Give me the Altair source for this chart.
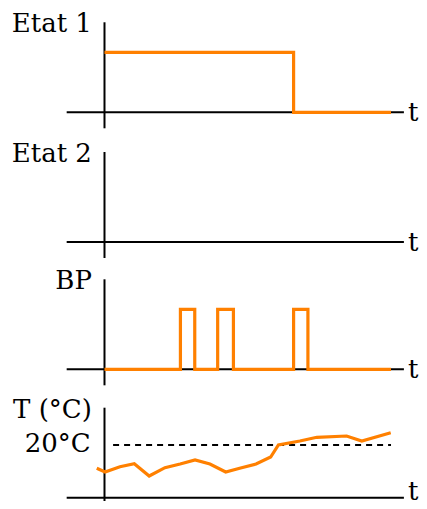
import altair as alt
import pandas as pd

# ---- data (time in arbitrary units, t=0 at the vertical axis, curves end at t=10)
etat1_t = [0, 6.6, 10]
etat1_v = [1, 0, 0]

bp_t = [0, 2.65, 3.15, 3.95, 4.5, 6.6, 7.1, 10]
bp_v = [0, 1, 0, 1, 0, 1, 0, 0]

temp_t = [-0.27, 0.02, 0.54, 1.04, 1.56, 2.11, 2.64, 3.16, 3.68, 4.23,
          4.75, 5.29, 5.80, 6.07, 6.82, 7.41, 8.45, 8.98, 9.99]
temp_v = [17.67, 17.3, 17.83, 18.13, 16.9, 17.73, 18.1, 18.5, 18.1, 17.3,
          17.7, 18.1, 18.8, 20.0, 20.4, 20.77, 20.9, 20.4, 21.23]

setpoint = 20
setpoint_span = [0.3, 10]

panel_labels = ["Etat 1", "Etat 2", "BP", "T (°C)"]
setpoint_label = "20°C"
time_label = "t"

# ---- styling
ORANGE = "#ff8000"
FONT = "DejaVu Serif"
FS = 26
W = 411
X_DOM = [-3.368, 10.977]
AX_X = [-1.32, 10.45]
LAB_X = -0.44
T_X = 10.59


def xs(field):
    return alt.X(field, type="quantitative",
                 scale=alt.Scale(domain=X_DOM, nice=False, zero=False), axis=None)


def ys(field, dom):
    return alt.Y(field, type="quantitative",
                 scale=alt.Scale(domain=dom, nice=False, zero=False), axis=None)


def panel(dom, height, base, unit, label, curve=None, extra=None, clip=False, t_y=None):
    # base: y value of the horizontal axis; unit: data units per 60 px
    px = unit / 60.0
    if t_y is None:
        t_y = base - 9 * px
    haxis = alt.Chart(pd.DataFrame({"x0": [AX_X[0]], "x1": [AX_X[1]], "y": [base]})).mark_rule(
        color="black", strokeWidth=2, clip=clip
    ).encode(x=xs("x0"), x2="x1", y=ys("y", dom))
    vaxis = alt.Chart(pd.DataFrame({"x": [0], "y0": [base - 16 * px], "y1": [base + 90 * px]})).mark_rule(
        color="black", strokeWidth=2, clip=clip
    ).encode(x=xs("x"), y=ys("y0", dom), y2="y1")
    lab = alt.Chart(pd.DataFrame({"x": [LAB_X], "y": [base + 80 * px], "s": [label]})).mark_text(
        font=FONT, fontSize=FS, align="right", baseline="alphabetic", color="black"
    ).encode(x=xs("x"), y=ys("y", dom), text="s")
    tlab = alt.Chart(pd.DataFrame({"x": [T_X], "y": [t_y], "s": [time_label]})).mark_text(
        font=FONT, fontSize=FS, align="left", baseline="alphabetic", color="black"
    ).encode(x=xs("x"), y=ys("y", dom), text="s")
    layers = [haxis, vaxis, lab, tlab]
    if extra is not None:
        layers += extra
    if curve is not None:
        layers.append(curve)
    return alt.layer(*layers).properties(width=W, height=height)


# panel 1
c1 = alt.Chart(pd.DataFrame({"t": etat1_t, "v": etat1_v})).mark_line(
    color=ORANGE, strokeWidth=3.2, interpolate="step-after", strokeJoin="miter", strokeCap="butt"
).encode(x=xs("t"), y=ys("v", [-0.395, 1.738]))
p1 = panel([-0.395, 1.738], 128, 0, 1, panel_labels[0], curve=c1)

# panel 2
p2 = panel([-0.367, 1.767], 128, 0, 1, panel_labels[1])

# panel 3
c3 = alt.Chart(pd.DataFrame({"t": bp_t, "v": bp_v})).mark_line(
    color=ORANGE, strokeWidth=3.2, interpolate="step-after", strokeJoin="miter", strokeCap="butt"
).encode(x=xs("t"), y=ys("v", [-0.378, 1.755]))
p3 = panel([-0.378, 1.755], 128, 0, 1, panel_labels[2], curve=c3)

# panel 4 (temperature, 10 px per °C)
dom4 = [14.4, 25.3]
base4 = 14.73
c4 = alt.Chart(pd.DataFrame({"t": temp_t, "v": temp_v})).mark_line(
    color=ORANGE, strokeWidth=3.2, strokeJoin="miter", strokeCap="butt", clip=True
).encode(x=xs("t"), y=ys("v", dom4))
dash = alt.Chart(pd.DataFrame({"x0": [setpoint_span[0]], "x1": [setpoint_span[1]], "y": [setpoint]})).mark_rule(
    color="black", strokeWidth=2, strokeDash=[6, 5]
).encode(x=xs("x0"), x2="x1", y=ys("y", dom4))
sp = alt.Chart(pd.DataFrame({"x": [LAB_X - 0.04], "y": [setpoint - 0.67], "s": [setpoint_label]})).mark_text(
    font=FONT, fontSize=FS, align="right", baseline="alphabetic", color="black"
).encode(x=xs("x"), y=ys("y", dom4), text="s")
p4 = panel(dom4, 109, base4, 6.0, panel_labels[3], curve=c4, extra=[dash, sp], clip=True, t_y=14.5)

chart = alt.vconcat(p1, p2, p3, p4, spacing=0).properties(padding=0).configure_view(stroke=None)

chart.save("out.html", embed_options={"renderer": "svg", "actions": False})
